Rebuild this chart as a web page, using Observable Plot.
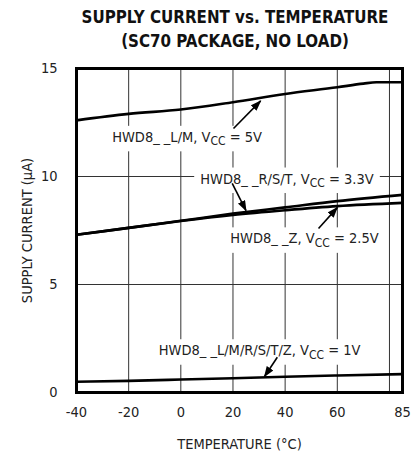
<!DOCTYPE html>
<html><head><meta charset="utf-8">
<script src="https://cdn.jsdelivr.net/npm/d3@7"></script>
<script src="https://cdn.jsdelivr.net/npm/@observablehq/plot@0.6"></script>
<style>
body{margin:0;background:#fff;}
#title{font-family:"DejaVu Sans Condensed","Liberation Sans Narrow","Arial Narrow","DejaVu Sans",sans-serif;font-stretch:condensed;font-weight:bold;font-size:16.8px;text-align:center;width:412px;box-sizing:border-box;padding-left:66px;padding-right:8px;line-height:24px;height:58px;padding-top:5px;color:#111}
</style></head><body>
<div id="title">SUPPLY CURRENT vs. TEMPERATURE<br>(SC70 PACKAGE, NO LOAD)</div>
<div id="chart"></div>
<script>
// ---- data ----
const temperature5V = [-40, -20, 0, 20, 40, 60, 70, 75, 85];
const current5V_LM = [12.6, 12.9, 13.1, 13.44, 13.82, 14.13, 14.3, 14.36, 14.36];

const temperature = [-40, -20, 0, 20, 40, 60, 85];
const current33V_RST = [7.3, 7.62, 7.95, 8.28, 8.57, 8.86, 9.15];
const current25V_Z = [7.3, 7.62, 7.94, 8.22, 8.44, 8.63, 8.78];
const current1V_all = [0.5, 0.54, 0.6, 0.66, 0.73, 0.79, 0.85];

const xTicks = [-40, -20, 0, 20, 40, 60, 85];
const xGrid = [-20, 0, 20, 40, 60, 80];
const yTicks = [0, 5, 10, 15];
const yGrid = [5, 10];

const labelText = ["HWD8_ _L/M, VCC = 5V", "HWD8_ _R/S/T, VCC = 3.3V", "HWD8_ _Z, VCC = 2.5V", "HWD8_ _L/M/R/S/T/Z, VCC = 1V"];
const labelTemp = [2.4, 40.7, 47.4, 30.2];
const labelCurrent = [11.82, 9.89, 7.12, 1.94];

const arrowFromTemp = [20.2, 19.7, 52.8, 37];
const arrowFromCurrent = [12.22, 9.68, 7.59, 1.63];
const arrowToTemp = [30.6, 25, 60, 32.1];
const arrowToCurrent = [13.5, 8.42, 8.56, 0.74];

const series = [
  {t: temperature5V, v: current5V_LM},
  {t: temperature, v: current33V_RST},
  {t: temperature, v: current25V_Z},
  {t: temperature, v: current1V_all}
];
const lineData = series.flatMap((s, k) => s.t.map((t, i) => ({k, t, v: s.v[i]})));
const labels = labelText.map((text, i) => ({text, x: labelTemp[i], y: labelCurrent[i]}));
const arrows = arrowFromTemp.map((x1, i) => ({x1, y1: arrowFromCurrent[i], x2: arrowToTemp[i], y2: arrowToCurrent[i]}));

const FONT = '"DejaVu Sans Condensed","Liberation Sans Narrow","Arial Narrow","DejaVu Sans",sans-serif';

const chart = Plot.plot({
  width: 412,
  height: 397,
  marginTop: 10,
  marginBottom: 63,
  marginLeft: 76,
  marginRight: 10,
  style: {fontFamily: FONT, fontSize: "14.5px", color: "#222", background: "#fff", fontStretch: "condensed"},
  x: {domain: [-40, 85], ticks: xTicks, tickSize: 0, tickPadding: 14, label: "TEMPERATURE (°C)", labelAnchor: "center", labelArrow: "none", labelOffset: 56, tickFormat: d => String(d)},
  y: {domain: [0, 15], ticks: yTicks, tickSize: 0, tickPadding: 19, label: "SUPPLY CURRENT (µA)", labelAnchor: "center", labelArrow: "none", labelOffset: 55},
  marks: [
    Plot.ruleX(xGrid, {stroke: "#333", strokeWidth: 1}),
    Plot.ruleY(yGrid, {stroke: "#333", strokeWidth: 1}),
    Plot.line(lineData, {x: "t", y: "v", z: "k", stroke: "#000", strokeWidth: 2.6, curve: "monotone-x"}),
    Plot.link(arrows, {x1: "x1", y1: "y1", x2: "x2", y2: "y2", stroke: "#000", strokeWidth: 1.6}),
    Plot.text(labels, {x: "x", y: "y", text: "text", textAnchor: "middle", fill: "#222", fontSize: 14.5}),
    Plot.frame({stroke: "#000", strokeWidth: 3})
  ]
});
document.getElementById("chart").appendChild(chart);

const NS = "http://www.w3.org/2000/svg";
const annText = [...chart.querySelectorAll('g[aria-label="text"] text')];
// subscripts
annText.forEach(t => {
  const s = t.textContent;
  const i = s.indexOf("VCC");
  if (i < 0) return;
  t.textContent = s.slice(0, i + 1);
  const sub = document.createElementNS(NS, "tspan");
  sub.setAttribute("font-size", "12px");
  sub.setAttribute("dy", "3.5");
  sub.textContent = "CC";
  t.appendChild(sub);
  const rest = document.createElementNS(NS, "tspan");
  rest.setAttribute("dy", "-3.5");
  rest.textContent = s.slice(i + 3);
  t.appendChild(rest);
});
// white boxes behind labels
const sb = chart.getBoundingClientRect();
const boxG = document.createElementNS(NS, "g");
annText.forEach(t => {
  const b = t.getBoundingClientRect();
  const r = document.createElementNS(NS, "rect");
  r.setAttribute("x", b.left - sb.left - 6);
  r.setAttribute("y", b.top - sb.top - 3);
  r.setAttribute("width", b.width + 12);
  r.setAttribute("height", b.height + 6);
  r.setAttribute("fill", "#fff");
  boxG.appendChild(r);
});
const lineG = chart.querySelector('g[aria-label="line"]');
lineG.parentNode.insertBefore(boxG, lineG);
// arrowheads
const defs = document.createElementNS(NS, "defs");
defs.innerHTML = '<marker id="ah" viewBox="0 0 11 8" refX="10" refY="4" markerWidth="11" markerHeight="8" markerUnits="userSpaceOnUse" orient="auto"><path d="M0,0L11,4L0,8z" fill="#000"/></marker>';
chart.insertBefore(defs, chart.firstChild);
chart.querySelectorAll('g[aria-label="link"] path, g[aria-label="link"] line').forEach(p => p.setAttribute("marker-end", "url(#ah)"));
</script>
</body></html>
